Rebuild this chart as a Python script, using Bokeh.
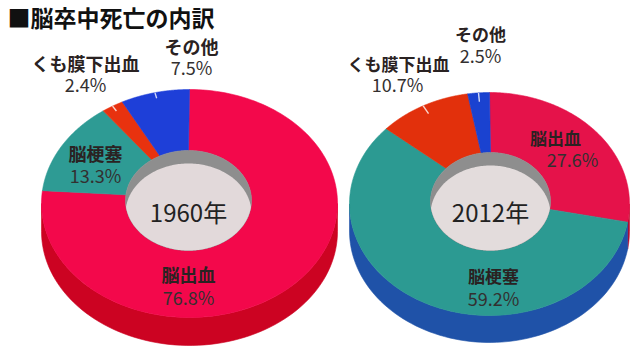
import numpy as np
from bokeh.plotting import figure
from bokeh.models import Range1d
from bokeh.embed import file_html
from bokeh.resources import INLINE
from bokeh.core.properties import value

# ---------------- data ----------------
title = "■脳卒中死亡の内訳"
categories = ["脳出血", "脳梗塞", "くも膜下出血", "その他"]
years = ["1960年", "2012年"]
share_1960 = [76.8, 13.3, 2.4, 7.5]
share_2012 = [27.6, 59.2, 10.7, 2.5]

# ---------------- styles / layout ----------------
FONT = value("Noto Sans CJK JP")
charts = [
    dict(share=share_1960, year=years[0],
         cx=189, cy=203, rx=148, ry=114, t=28,
         hcx=188, hcy=200, hrx=63, hry=50, d=13,
         face=["#F3084B", "#2E9B94", "#E8320F", "#1E3FD8"],
         side=["#CC0322", "#1F7A74", "#B8260A", "#1630A8"],
         floor="#E2D9DA",
         name_pos=[(188, 273), (95, 152), (85, 62), (191, 45)],
         pct_pos=[(188, 296), (95, 174), (85, 83), (191, 66)],
         fs="18px", year_pos=(188, 211), tick_in=0.95),
    dict(share=share_2012, year=years[1],
         cx=489, cy=203.5, rx=140, ry=111.5, t=27,
         hcx=490, hcy=201, hrx=60, hry=49, d=13,
         face=["#E5124A", "#2C9A92", "#E2300C", "#1A42D0"],
         side=["#B80A2A", "#1F52A8", "#B4260A", "#1636A0"],
         floor="#E3DCDC",
         name_pos=[(555, 137), (493, 275), (398, 63), (480, 33)],
         pct_pos=[(572, 158), (493, 297), (397, 83), (480, 54)],
         fs="17px", year_pos=(490, 211), tick_in=0.92),
]


def ell(cx, cy, rx, ry, th):
    return cx + rx * np.sin(th), cy - ry * np.cos(th)


p = figure(width=640, height=351, x_range=Range1d(0, 640), y_range=Range1d(351, 0),
           output_backend="svg", toolbar_location=None, min_border=0)
p.axis.visible = False
p.grid.visible = False
p.outline_line_color = None
p.background_fill_color = "white"
p.border_fill_color = "white"

for c in charts:
    vals = np.array(c["share"], dtype=float)
    bounds = np.concatenate([[0], np.cumsum(vals) / vals.sum()]) * 2 * np.pi
    side_xs, side_ys, side_col = [], [], []
    face_xs, face_ys, face_col = [], [], []
    for i in range(len(vals)):
        a, b = bounds[i], bounds[i + 1]
        # side (front half only)
        lo, hi = max(a, np.pi / 2), min(b, 3 * np.pi / 2)
        if lo < hi:
            th = np.linspace(lo, hi, 80)
            x, y = ell(c["cx"], c["cy"], c["rx"], c["ry"], th)
            side_xs.append(list(np.concatenate([x, x[::-1]])))
            side_ys.append(list(np.concatenate([y, (y + c["t"])[::-1]])))
            side_col.append(c["side"][i])
        th = np.linspace(a, b, 160)
        xo, yo = ell(c["cx"], c["cy"], c["rx"], c["ry"], th)
        xi, yi = ell(c["hcx"], c["hcy"], c["hrx"], c["hry"], th[::-1])
        face_xs.append(list(np.concatenate([xo, xi])))
        face_ys.append(list(np.concatenate([yo, yi])))
        face_col.append(c["face"][i])
    p.patches(side_xs, side_ys, fill_color=side_col, line_color=side_col, line_width=0.6)
    p.patches(face_xs, face_ys, fill_color=face_col, line_color=face_col, line_width=0.6)

    # hole: inner wall + floor
    th = np.linspace(0, 2 * np.pi, 200)
    hx, hy = ell(c["hcx"], c["hcy"], c["hrx"], c["hry"], th)
    p.patch(hx, hy, fill_color="#8E8E8E", line_color="#8E8E8E", line_width=0.6)
    th0 = np.arccos(-c["d"] / (2 * c["hry"]))
    th1 = np.pi - th0
    tb = np.linspace(th0, 2 * np.pi - th0, 120)
    tt = np.linspace(-th1, th1, 120)
    bx, by = ell(c["hcx"], c["hcy"], c["hrx"], c["hry"], tb)
    ux, uy = ell(c["hcx"], c["hcy"] + c["d"], c["hrx"], c["hry"], tt)
    p.patch(np.concatenate([bx, ux]), np.concatenate([by, uy]),
            fill_color=c["floor"], line_color=None)

    # little white leader ticks on the small slices
    mids = (bounds[:-1] + bounds[1:]) / 2
    for i in (2, 3):
        x0, y0 = ell(c["cx"], c["cy"], c["rx"], c["ry"], mids[i])
        x1, y1 = ell(c["cx"], c["cy"], c["rx"] * c["tick_in"], c["ry"] * c["tick_in"], mids[i])
        p.line([x0, x1], [y0, y1], line_color="white", line_width=1.4, line_alpha=0.8)

    # labels
    p.text(x=[q[0] for q in c["name_pos"]], y=[q[1] for q in c["name_pos"]], text=categories,
           text_font=FONT, text_font_size=c["fs"], text_font_style="bold",
           text_align="center", text_baseline="middle", text_color="#2A2222")
    p.text(x=[q[0] for q in c["pct_pos"]], y=[q[1] for q in c["pct_pos"]],
           text=[f"{v:.1f}%" for v in c["share"]],
           text_font=FONT, text_font_size="18px",
           text_align="center", text_baseline="middle", text_color="#333030")
    p.text(x=[c["year_pos"][0]], y=[c["year_pos"][1]], text=[c["year"]],
           text_font=FONT, text_font_size="24px",
           text_align="center", text_baseline="middle", text_color="#222222")

p.text(x=[7], y=[16], text=[title], text_font=FONT, text_font_size="23px",
       text_font_style="bold", text_align="left", text_baseline="middle", text_color="#111111")

open("out.html", "w").write(file_html(p, INLINE))
